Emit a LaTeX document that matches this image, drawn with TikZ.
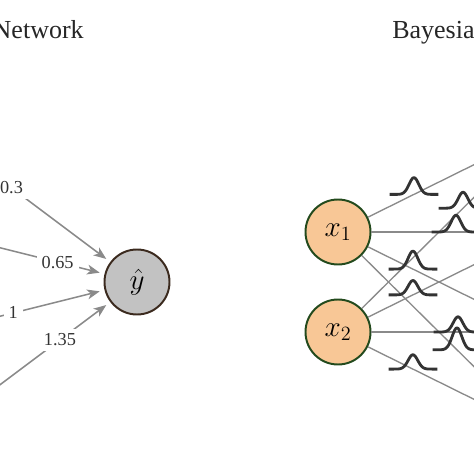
\documentclass[tikz,border=0pt]{standalone}
\usepackage{fontspec}
\setmainfont{Liberation Serif}
\usepackage{tikz}
\usepackage{xcolor}
\usetikzlibrary{arrows.meta,calc}

\definecolor{wiregray}{HTML}{8A8A8A}
\definecolor{peach}{HTML}{F8C796}
\definecolor{darkgreen}{HTML}{234A1D}
\definecolor{nodegray}{HTML}{C2C2C2}
\definecolor{darkbrown}{HTML}{3B2A1E}
\definecolor{bumpgray}{HTML}{333333}

\begin{document}
\begin{tikzpicture}

\tikzstyle{unit} = [circle, minimum size=1.625cm, inner sep=0pt, line width=1.4pt, font=\fontsize{20}{22}\selectfont]
\tikzstyle{input} = [unit, fill=peach, draw=darkgreen]
\tikzstyle{output} = [unit, fill=nodegray, draw=darkbrown]
\tikzstyle{arrow} = [draw=wiregray, line width=1.1pt, -{Stealth[length=9pt,width=7pt,inset=2.5pt]}, shorten >=3.5pt]
\tikzstyle{weight} = [fill=white, inner sep=3.5pt, text=black!80, font=\fontsize{13}{15}\selectfont]
\tikzstyle{link} = [draw=wiregray, line width=0.95pt]
\tikzstyle{bump} = [draw=bumpgray, line width=2pt, line join=round]
\tikzstyle{title} = [inner sep=0pt, text=black!85, font=\fontsize{18.5}{22}\selectfont]

\useasboundingbox (0,0) rectangle (11.85,11.85);
\clip (0,0) rectangle (11.85,11.85);

\node[title, anchor=base east] (nn) at (2.1,10.9) {Network};
\node[title, anchor=base west] (bnn) at (9.8,10.9) {Bayesia};

% left half
\node[output] (yhat) at (3.425,4.8) {$\hat{y}$};

\coordinate (i1) at (-1.575,8.55);
\coordinate (i2) at (-1.575,6.05);
\coordinate (i3) at (-1.575,3.55);
\coordinate (i4) at (-1.575,1.05);

\draw[arrow] (i1) -- node[weight, pos=0.43] {0.3} (yhat);
\draw[arrow] (i2) -- node[weight, pos=0.72] {0.65} (yhat);
\draw[arrow] (i3) -- node[weight, pos=0.455] {1} (yhat);
\draw[arrow] (i4) -- node[weight, pos=0.71] {1.35} (yhat);

% right half
\node[input] (x1) at (8.45,6.05) {$x_1$};
\node[input] (x2) at (8.45,3.55) {$x_2$};

\coordinate (h1) at (13.5,8.55);
\coordinate (h2) at (13.5,6.05);
\coordinate (h3) at (13.5,3.55);
\coordinate (h4) at (13.5,1.05);

\draw[link] (x1) -- (h1);
\draw[link] (x1) -- (h2);
\draw[link] (x1) -- (h3);
\draw[link] (x1) -- (h4);
\draw[link] (x2) -- (h1);
\draw[link] (x2) -- (h2);
\draw[link] (x2) -- (h3);
\draw[link] (x2) -- (h4);

\foreach \src/\dst/\where/\amp in {x1/h1/0.376/0.42, x1/h2/0.584/0.42, x1/h3/0.371/0.45, x1/h4/0.589/0.55,
                                   x2/h1/0.619/0.40, x2/h2/0.371/0.36, x2/h3/0.594/0.38, x2/h4/0.371/0.36}
  \draw[bump, shift={($(\src.center)!\where!(\dst)$)}]
    plot[smooth, domain=-0.61:0.61, samples=41] (\x, {\amp*exp(-(\x/0.12)^2/2)});

\end{tikzpicture}
\end{document}
